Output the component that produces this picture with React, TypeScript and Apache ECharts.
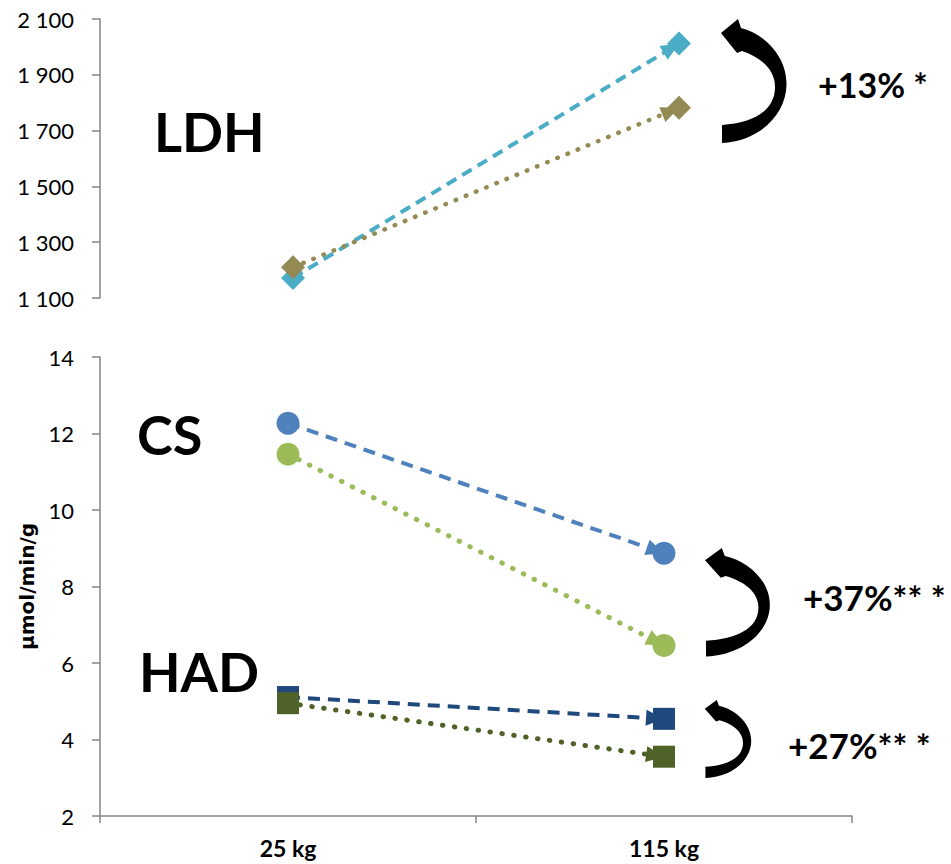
import React, { useEffect, useRef } from "react";
import * as echarts from "echarts";

// ---- data ----
const categories = ["25 kg", "115 kg"];

const ldhSeriesA = [1172, 2012];
const ldhSeriesB = [1210, 1782];
const csSeriesA = [12.27, 8.87];
const csSeriesB = [11.46, 6.46];
const hadSeriesA = [5.11, 4.54];
const hadSeriesB = [4.95, 3.55];

const ldhAxis = { min: 1100, max: 2100, interval: 200 };
const molAxis = { min: 2, max: 14, interval: 2 };

const enzymeLabels = ["LDH", "CS", "HAD"];
const changeLabels = ["+13% *", "+37%** *", "+27%** *"];
const yAxisTitle = "µmol/min/g";

const ARROW_PATH =
  "M1 14 L18 0 L21 9 C42 14 66 35 66.5 64 C67 95 40 122 2 124 L2 106 C33 104 55 92 55 68 C55 50 40 38 22 32 L17 34 Z";

let registered = false;
function ensureShape() {
  if (registered) return;
  echarts.graphic.registerShape(
    "curvedArrow",
    echarts.graphic.extendPath(ARROW_PATH, {}) as any
  );
  registered = true;
}

const FONT = "Lato, 'Open Sans', sans-serif";

function fmtThousands(v: number) {
  return String(v).replace(/\B(?=(\d{3})+(?!\d))/g, " ");
}

function mkSeries(
  name: string,
  data: number[],
  axisIndex: number,
  color: string,
  dash: number[],
  width: number,
  cap: string,
  symbol: string,
  symbolSize: number
) {
  return {
    type: "line",
    name,
    xAxisIndex: axisIndex,
    yAxisIndex: axisIndex,
    data,
    z: 10,
    symbol,
    symbolSize,
    showSymbol: true,
    itemStyle: { color },
    lineStyle: { opacity: 0, width: 0 },
    emphasis: { disabled: true },
    markLine: {
      silent: true,
      z: 5,
      symbol: ["none", "triangle"],
      symbolSize: [16, 18],
      label: { show: false },
      emphasis: { disabled: true },
      lineStyle: { color, width, type: dash, cap },
      data: [
        [
          { coord: [0, data[0]], symbol: "none" },
          { coord: [1, data[1]], symbol: "triangle", symbolSize: [16, 18], symbolOffset: [0, 9] },
        ],
      ],
    },
  };
}

export default function App() {
  const ref = useRef<HTMLDivElement>(null);

  useEffect(() => {
    if (!ref.current) return;
    ensureShape();
    const chart = echarts.init(ref.current, undefined, { renderer: "svg" });

    const axisLineStyle = { color: "#868686", width: 1.5 };
    const tickLabel = { color: "#000", fontFamily: FONT, fontSize: 22 };

    const arrows = [
      { x: 720, y: 19, sx: 1, sy: 1 },
      { x: 704, y: 548, sx: 0.99, sy: 0.875 },
      { x: 704, y: 700, sx: 0.71, sy: 0.63 },
    ];
    const changePos = [
      { x: 818, y: 84 },
      { x: 803, y: 597 },
      { x: 788, y: 745 },
    ];
    const enzymePos = [
      { x: 154, y: 131 },
      { x: 137, y: 434 },
      { x: 139, y: 671 },
    ];

    const graphic: any[] = [];
    enzymeLabels.forEach((t, i) => {
      graphic.push({
        type: "text",
        x: enzymePos[i].x,
        y: enzymePos[i].y,
        style: {
          text: t,
          fontFamily: FONT,
          fontWeight: "bold",
          fontSize: 54,
          fill: "#000",
          align: "left",
          verticalAlign: "middle",
        },
      });
    });
    changeLabels.forEach((t, i) => {
      graphic.push({
        type: "text",
        x: changePos[i].x,
        y: changePos[i].y,
        style: {
          text: t,
          fontFamily: FONT,
          fontWeight: "bold",
          fontSize: i === 0 ? 34 : 35,
          fill: "#000",
          align: "left",
          verticalAlign: "middle",
        },
      });
      graphic.push({
        type: "curvedArrow",
        x: arrows[i].x,
        y: arrows[i].y,
        scaleX: arrows[i].sx,
        scaleY: arrows[i].sy,
        style: { fill: "#000" },
      });
    });

    chart.setOption({
      animation: false,
      grid: [
        { left: 100, width: 772, top: 19, height: 279 },
        { left: 100, width: 752, top: 357, height: 459 },
      ],
      xAxis: [
        {
          type: "category",
          gridIndex: 0,
          data: categories,
          show: false,
        },
        {
          type: "category",
          gridIndex: 1,
          data: categories,
          axisLine: { lineStyle: axisLineStyle },
          axisTick: { show: true, length: 7, lineStyle: axisLineStyle },
          axisLabel: {
            color: "#000",
            fontFamily: FONT,
            fontWeight: "bold",
            fontSize: 23,
            margin: 20,
          },
        },
      ],
      yAxis: [
        {
          type: "value",
          gridIndex: 0,
          min: ldhAxis.min,
          max: ldhAxis.max,
          interval: ldhAxis.interval,
          splitLine: { show: false },
          axisLine: { show: true, lineStyle: axisLineStyle },
          axisTick: { show: true, length: 8, lineStyle: axisLineStyle },
          axisLabel: { ...tickLabel, margin: 26, formatter: (v: number) => fmtThousands(v) },
        },
        {
          type: "value",
          gridIndex: 1,
          min: molAxis.min,
          max: molAxis.max,
          interval: molAxis.interval,
          splitLine: { show: false },
          axisLine: { show: true, lineStyle: axisLineStyle },
          axisTick: { show: true, length: 8, lineStyle: axisLineStyle },
          axisLabel: { ...tickLabel, margin: 26 },
          name: yAxisTitle,
          nameLocation: "middle",
          nameGap: 63,
          nameTextStyle: {
            color: "#000",
            fontFamily: "'DejaVu Sans', sans-serif",
            fontWeight: "bold",
            fontSize: 20,
          },
        },
      ],
      series: [
        mkSeries("LDH A", ldhSeriesA, 0, "#4BACC6", [11, 7], 4, "butt", "diamond", 24),
        mkSeries("LDH B", ldhSeriesB, 0, "#948A54", [0.5, 10.5], 4.5, "round", "diamond", 24),
        mkSeries("CS A", csSeriesA, 1, "#4F81BD", [12, 8], 4, "butt", "circle", 23),
        mkSeries("CS B", csSeriesB, 1, "#9BBB59", [0.5, 11.5], 5, "round", "circle", 23),
        mkSeries("HAD A", hadSeriesA, 1, "#1F497D", [12, 8], 4, "butt", "rect", 22),
        mkSeries("HAD B", hadSeriesB, 1, "#4F6228", [0.5, 11.5], 5, "round", "rect", 22),
      ],
      graphic,
    });

    return () => chart.dispose();
  }, []);

  return (
    <div
      ref={ref}
      style={{ position: "fixed", left: 0, top: 0, width: 951, height: 864, background: "#fff" }}
    />
  );
}
